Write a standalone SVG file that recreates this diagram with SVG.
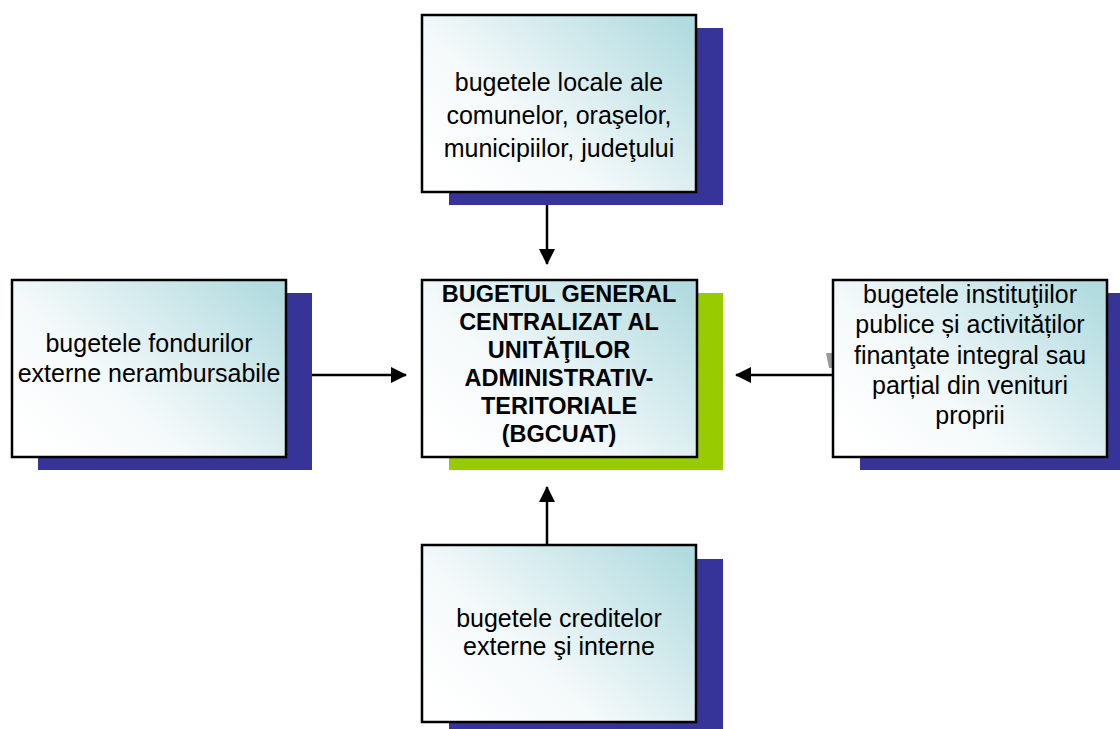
<svg xmlns="http://www.w3.org/2000/svg" width="1120" height="729" viewBox="0 0 1120 729">
<defs>
<linearGradient id="g" x1="0" y1="0.8" x2="1" y2="0.1">
<stop offset="0" stop-color="#ffffff"/>
<stop offset="0.35" stop-color="#f4f9fa"/>
<stop offset="1" stop-color="#b1dbdf"/>
</linearGradient>
<marker id="ah" markerWidth="16" markerHeight="16" refX="15" refY="8" orient="auto" markerUnits="userSpaceOnUse">
<path d="M0,0 L16,8 L0,16 Z" fill="#000"/>
</marker>
<style>
.box{fill:url(#g);stroke:#000;stroke-width:2.5}
.sh{fill:#363399}
.shg{fill:#99cc00}
.t{font-family:"Liberation Sans",Arial,sans-serif;font-size:25px;fill:#000;text-anchor:middle}
.tb{font-family:"Liberation Sans",Arial,sans-serif;font-size:23.5px;font-weight:bold;fill:#000;text-anchor:middle}
.c{stroke:#000;stroke-width:2.5;fill:none;marker-end:url(#ah)}
</style>
</defs>
<rect width="1120" height="729" fill="#fff"/>
<g id="connectors">
<line class="c" x1="547" y1="193" x2="547" y2="264"/>
<line class="c" x1="312" y1="375" x2="406" y2="375"/>
<line class="c" x1="832" y1="375" x2="736" y2="375"/>
<line class="c" x1="547" y1="553" x2="547" y2="487"/>
</g>
<g id="node-top">
<rect class="sh" x="449" y="28" width="274" height="177"/>
<rect class="box" x="422" y="15" width="274" height="177"/>
<text class="t" x="559" y="91">bugetele locale ale</text>
<text class="t" x="559" y="124">comunelor, oraşelor,</text>
<text class="t" x="559" y="157">municipiilor, judeţului</text>
</g>
<g id="node-left">
<rect class="sh" x="38" y="293" width="274" height="177"/>
<rect class="box" x="12" y="280" width="274" height="177"/>
<text class="t" x="149" y="352">bugetele fondurilor</text>
<text class="t" x="149" y="382">externe nerambursabile</text>
</g>
<g id="node-right">
<rect class="sh" x="860" y="293" width="274" height="177"/>
<polygon points="826,353 833,353 833,368 829,368" fill="#999"/>
<rect class="box" x="833" y="280" width="274" height="177"/>
<text class="t" x="970" y="303">bugetele instituţiilor</text>
<text class="t" x="970" y="333">publice și activităților</text>
<text class="t" x="970" y="364">finanţate integral sau</text>
<text class="t" x="970" y="394">parțial din venituri</text>
<text class="t" x="970" y="424">proprii</text>
</g>
<g id="node-center">
<rect class="shg" x="449" y="293" width="274" height="177"/>
<rect class="box" x="422" y="280" width="275" height="177"/>
<text class="tb" x="559" y="302">BUGETUL GENERAL</text>
<text class="tb" x="559" y="330">CENTRALIZAT AL</text>
<text class="tb" x="559" y="358">UNITĂŢILOR</text>
<text class="tb" x="559" y="386">ADMINISTRATIV-</text>
<text class="tb" x="559" y="414">TERITORIALE</text>
<text class="tb" x="559" y="442">(BGCUAT)</text>
</g>
<g id="node-bottom">
<rect class="sh" x="449" y="559" width="274" height="177"/>
<rect class="box" x="422" y="545" width="274" height="177"/>
<text class="t" x="559" y="627">bugetele creditelor</text>
<text class="t" x="559" y="655">externe şi interne</text>
</g>
</svg>
